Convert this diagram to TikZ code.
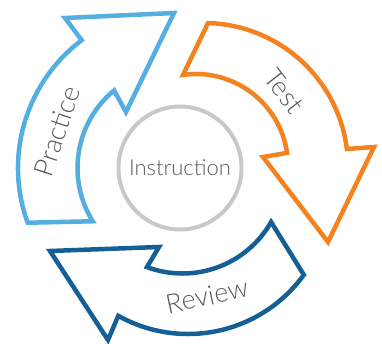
\documentclass[tikz,border=0pt]{standalone}
\usepackage{fontspec}
\setmainfont{Lato Light}
\definecolor{pblue}{RGB}{84,174,225}
\definecolor{torange}{RGB}{244,130,31}
\definecolor{rblue}{RGB}{20,96,150}
\definecolor{cgray}{RGB}{200,200,200}
\definecolor{labelgray}{RGB}{90,90,90}
\begin{document}
\begin{tikzpicture}[x=1pt,y=1pt,
  arrowbox/.style={line width=4.5pt, line join=miter, fill=white},
  lbl/.style={text=labelgray, font=\fontsize{27}{30}\selectfont, inner sep=0pt}]
\useasboundingbox (0,0) rectangle (382,343);
% centres of the arcs
\coordinate (pc) at (178,175);
\coordinate (tco) at (204,176);
\coordinate (tci) at (196,177);
\coordinate (rco) at (188,152);
\coordinate (rci) at (182.5,171.5);
% Practice arrow
\draw[arrowbox, draw=pblue] ([shift={(200:160)}]pc) arc[start angle=200, end angle=127, radius=160]
  -- (65,325) -- (174,330) -- (126,231)
  -- ([shift={(129.5:100.5)}]pc) arc[start angle=129.5, end angle=212, radius=100.5] -- cycle;
% Test arrow
\draw[arrowbox, draw=torange] ([shift={(88.4:144)}]tco) arc[start angle=88.4, end angle=7.2, radius=144]
  -- (374,196) -- (328,101) -- (263,186)
  -- ([shift={(8.2:92)}]tci) arc[start angle=8.2, end angle=98.1, radius=92] -- cycle;
% Review arrow
\draw[arrowbox, draw=rblue] ([shift={(-35.9:143)}]rco) arc[start angle=-35.9, end angle=-119.2, radius=143]
  -- (108,3) -- (50,92) -- (159,96)
  -- ([shift={(249.6:102)}]rci) arc[start angle=249.6, end angle=330.3, radius=102] -- cycle;
% centre
\node[circle, draw=cgray, line width=4pt, minimum size=123pt, inner sep=0pt,
      text=labelgray, font=\fontsize{22}{26}\selectfont] (inst) at (180,175) {Instruction};
% labels
\node[lbl, rotate=72] (lp) at (57,212) {Practice};
\node[lbl, rotate=-52] (lt) at (284,252) {Test};
\node[lbl, rotate=12] (lr) at (207,47) {Review};
\end{tikzpicture}
\end{document}
